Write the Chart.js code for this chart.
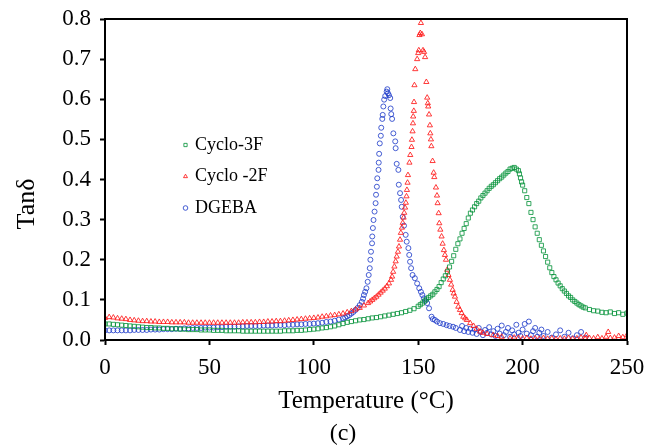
<!DOCTYPE html>
<html>
<head>
<meta charset="utf-8">
<script src="https://cdn.jsdelivr.net/npm/chart.js@4.4.1/dist/chart.umd.min.js"></script>
<style>
  body { margin: 0; background: #fff; }
  #wrap { width: 647px; height: 448px; }
</style>
</head>
<body>
<div id="wrap"><canvas id="myChart" width="647" height="448"></canvas></div>
<script>
// tick labels
const xTicks = [0, 50, 100, 150, 200, 250];
const yTicks = [0.0, 0.1, 0.2, 0.3, 0.4, 0.5, 0.6, 0.7, 0.8];

// Cyclo-3F (green squares)
const cyclo3fTemp = [0, 2, 4, 6, 8, 10, 12, 14, 16, 18, 20, 22, 24, 26, 28, 30, 32, 34, 36, 38, 40, 42, 44, 46, 48, 50, 52, 54, 56, 58, 60, 62, 64, 66, 68, 70, 72, 74, 76, 78, 80, 82, 84, 86, 88, 90, 92, 94, 96, 98, 100, 102, 104, 106, 108, 110, 112, 114, 116, 118, 120, 122, 124, 126, 128, 130, 132, 134, 136, 138, 140, 142, 144, 146, 148, 150, 151, 152, 153, 154, 155, 156, 157, 158, 159, 160, 161, 162, 163, 164, 165, 166, 167, 168, 169, 170, 171, 172, 173, 174, 175, 176, 177, 178, 179, 180, 181, 182, 183, 184, 185, 186, 187, 188, 189, 190, 191, 192, 193, 194, 195, 196, 197, 198, 198.5, 199, 199.5, 200, 201, 202, 203, 204, 205, 206, 207, 208, 209, 210, 211, 212, 213, 214, 215, 216, 217, 218, 219, 220, 221, 222, 223, 224, 225, 226, 227, 228, 229, 230, 232, 234, 236, 238, 240, 242, 244, 246, 248, 250];
const cyclo3fTan = [0.040, 0.040, 0.039, 0.038, 0.037, 0.036, 0.035, 0.034, 0.033, 0.032, 0.031, 0.031, 0.030, 0.030, 0.029, 0.029, 0.028, 0.028, 0.027, 0.027, 0.026, 0.026, 0.026, 0.025, 0.025, 0.025, 0.024, 0.024, 0.024, 0.023, 0.023, 0.023, 0.023, 0.022, 0.022, 0.022, 0.022, 0.022, 0.022, 0.022, 0.022, 0.022, 0.022, 0.023, 0.023, 0.023, 0.024, 0.024, 0.025, 0.026, 0.027, 0.028, 0.030, 0.031, 0.033, 0.035, 0.038, 0.041, 0.044, 0.046, 0.048, 0.050, 0.051, 0.053, 0.055, 0.056, 0.058, 0.060, 0.062, 0.064, 0.066, 0.068, 0.071, 0.074, 0.078, 0.084, 0.088, 0.092, 0.097, 0.102, 0.106, 0.110, 0.114, 0.120, 0.126, 0.133, 0.143, 0.152, 0.160, 0.170, 0.182, 0.196, 0.210, 0.226, 0.240, 0.252, 0.266, 0.278, 0.290, 0.304, 0.316, 0.324, 0.332, 0.340, 0.346, 0.354, 0.360, 0.366, 0.372, 0.378, 0.383, 0.387, 0.392, 0.397, 0.402, 0.406, 0.411, 0.416, 0.420, 0.426, 0.428, 0.430, 0.426, 0.422, 0.414, 0.404, 0.394, 0.386, 0.372, 0.355, 0.340, 0.318, 0.300, 0.282, 0.266, 0.250, 0.236, 0.222, 0.208, 0.194, 0.180, 0.168, 0.158, 0.150, 0.142, 0.135, 0.128, 0.122, 0.116, 0.110, 0.106, 0.100, 0.096, 0.092, 0.088, 0.085, 0.082, 0.080, 0.076, 0.073, 0.072, 0.069, 0.068, 0.070, 0.066, 0.068, 0.064, 0.067];

// Cyclo -2F (red triangles)
const cyclo2fTemp = [0, 2, 4, 6, 8, 10, 12, 14, 16, 18, 20, 22, 24, 26, 28, 30, 32, 34, 36, 38, 40, 42, 44, 46, 48, 50, 52, 54, 56, 58, 60, 62, 64, 66, 68, 70, 72, 74, 76, 78, 80, 82, 84, 86, 88, 90, 92, 94, 96, 98, 100, 102, 104, 106, 108, 110, 112, 114, 116, 118, 120, 122, 124, 126, 127, 128, 129, 130, 131, 132, 133, 134, 135, 136, 137, 137.5, 138, 138.6, 139.2, 139.7, 140.3, 140.8, 141.3, 141.7, 142.2, 142.6, 143, 143.3, 143.7, 144.1, 144.4, 144.6, 144.9, 145.1, 145.8, 146.2, 146.8, 147, 147.3, 147.5, 147.6, 147.9, 148, 148.2, 148.6, 149.5, 150, 150.3, 150.6, 151, 151.3, 151.8, 152.3, 152.8, 153.3, 153.9, 154.3, 154.6, 154.8, 155.2, 155.6, 155.8, 156.1, 156.3, 156.9, 157.4, 157.7, 158.5, 159, 159.3, 159.8, 160.1, 160.6, 161.2, 161.7, 162.3, 162.8, 163.3, 163.9, 164.5, 165.2, 165.8, 166.5, 167, 167.6, 168.4, 169.2, 170, 170.8, 171.6, 172.5, 173.3, 174.9, 176.5, 178, 179.6, 181, 183, 185.9, 188, 190, 194, 196, 198, 200, 202, 204, 206, 208, 210, 212, 214, 216, 218, 220, 222, 224, 226, 228, 230, 230.5, 232, 234, 236, 238, 240, 241, 242, 244, 246, 248, 250];
const cyclo2fTan = [0.055, 0.057, 0.056, 0.054, 0.053, 0.052, 0.050, 0.049, 0.048, 0.047, 0.047, 0.046, 0.046, 0.045, 0.045, 0.045, 0.044, 0.044, 0.044, 0.044, 0.043, 0.043, 0.043, 0.043, 0.043, 0.043, 0.043, 0.043, 0.043, 0.043, 0.043, 0.043, 0.043, 0.044, 0.044, 0.044, 0.044, 0.045, 0.045, 0.046, 0.046, 0.047, 0.047, 0.048, 0.049, 0.050, 0.051, 0.052, 0.053, 0.054, 0.055, 0.056, 0.058, 0.059, 0.061, 0.062, 0.064, 0.066, 0.069, 0.072, 0.076, 0.080, 0.086, 0.092, 0.096, 0.100, 0.104, 0.108, 0.113, 0.118, 0.123, 0.128, 0.134, 0.141, 0.150, 0.158, 0.170, 0.183, 0.196, 0.208, 0.220, 0.233, 0.250, 0.267, 0.280, 0.292, 0.305, 0.317, 0.330, 0.342, 0.358, 0.374, 0.392, 0.411, 0.442, 0.461, 0.481, 0.499, 0.520, 0.540, 0.557, 0.571, 0.593, 0.635, 0.675, 0.700, 0.715, 0.722, 0.760, 0.765, 0.790, 0.762, 0.722, 0.718, 0.705, 0.643, 0.604, 0.590, 0.582, 0.562, 0.535, 0.515, 0.500, 0.483, 0.446, 0.417, 0.406, 0.380, 0.360, 0.341, 0.316, 0.291, 0.275, 0.258, 0.240, 0.224, 0.212, 0.200, 0.175, 0.162, 0.150, 0.138, 0.125, 0.116, 0.108, 0.095, 0.083, 0.075, 0.067, 0.058, 0.054, 0.050, 0.042, 0.035, 0.028, 0.021, 0.018, 0.015, 0.012, 0.010, 0.008, 0.004, 0.006, 0.005, 0.004, 0.005, 0.003, 0.004, 0.003, 0.005, 0.003, 0.004, 0.002, 0.004, 0.003, 0.005, 0.003, 0.004, 0.006, 0.003, 0.012, 0.005, 0.004, 0.007, 0.004, 0.008, 0.020, 0.005, 0.006, 0.010, 0.007, 0.012];

// DGEBA (blue circles)
const dgebaTemp = [0, 2, 4, 6, 8, 10, 12, 14, 16, 18, 20, 22, 24, 26, 28, 30, 32, 34, 36, 38, 40, 42, 44, 46, 48, 50, 52, 54, 56, 58, 60, 62, 64, 66, 68, 70, 72, 74, 76, 78, 80, 82, 84, 86, 88, 90, 92, 94, 96, 98, 100, 102, 104, 106, 108, 110, 112, 114, 115, 116, 117, 118, 119, 120, 121, 122, 123, 123.6, 124, 124.6, 125.2, 125.8, 126.3, 126.8, 127.1, 127.4, 127.9, 128, 128.3, 128.6, 129.1, 129.6, 129.8, 130.2, 130.4, 131, 131.1, 131.3, 131.6, 132.1, 132.3, 132.8, 133, 133.3, 133.7, 134.2, 134.9, 135.2, 135.5, 136, 136.6, 136.8, 137.1, 137.5, 138.1, 139, 139.2, 139.7, 140.5, 140.7, 141.3, 141.8, 142.1, 142.6, 143.2, 144, 144.5, 145.3, 145.7, 146.1, 146.6, 147.3, 148.4, 149.5, 150.5, 151.3, 152, 152.7, 153.5, 154.3, 155.2, 156.4, 157, 158, 159, 160.4, 162, 163.6, 165, 166.7, 168, 170, 171, 172, 173, 174, 175, 176, 177, 178, 179, 180, 181, 182, 183, 184, 185, 186, 187, 188, 189, 190, 191, 192, 193, 194, 195, 196, 197, 198, 199, 200, 201, 202, 203, 204, 205, 206, 207, 208, 209, 210, 212, 214, 216, 218, 220, 222, 224, 226, 228, 230];
const dgebaTan = [0.024, 0.024, 0.024, 0.024, 0.024, 0.024, 0.024, 0.025, 0.025, 0.025, 0.025, 0.026, 0.026, 0.026, 0.027, 0.027, 0.027, 0.028, 0.028, 0.029, 0.029, 0.030, 0.030, 0.030, 0.031, 0.031, 0.031, 0.032, 0.032, 0.033, 0.033, 0.033, 0.034, 0.034, 0.035, 0.035, 0.035, 0.035, 0.036, 0.036, 0.036, 0.037, 0.037, 0.037, 0.038, 0.038, 0.039, 0.039, 0.040, 0.040, 0.041, 0.042, 0.043, 0.045, 0.046, 0.048, 0.051, 0.054, 0.056, 0.059, 0.062, 0.066, 0.070, 0.075, 0.080, 0.087, 0.095, 0.103, 0.112, 0.120, 0.129, 0.145, 0.162, 0.179, 0.200, 0.220, 0.241, 0.258, 0.279, 0.299, 0.320, 0.341, 0.362, 0.382, 0.403, 0.424, 0.442, 0.464, 0.490, 0.509, 0.529, 0.551, 0.561, 0.582, 0.599, 0.608, 0.619, 0.625, 0.615, 0.610, 0.603, 0.577, 0.563, 0.551, 0.515, 0.495, 0.478, 0.439, 0.424, 0.387, 0.366, 0.349, 0.332, 0.307, 0.285, 0.262, 0.245, 0.229, 0.212, 0.195, 0.179, 0.162, 0.154, 0.141, 0.129, 0.120, 0.112, 0.104, 0.098, 0.092, 0.079, 0.058, 0.052, 0.050, 0.046, 0.042, 0.040, 0.037, 0.035, 0.033, 0.030, 0.025, 0.035, 0.022, 0.030, 0.020, 0.028, 0.018, 0.026, 0.015, 0.030, 0.020, 0.012, 0.025, 0.018, 0.032, 0.014, 0.022, 0.010, 0.028, 0.016, 0.036, 0.012, 0.020, 0.030, 0.008, 0.024, 0.014, 0.038, 0.018, 0.010, 0.026, 0.040, 0.016, 0.046, 0.012, 0.022, 0.030, 0.008, 0.018, 0.026, 0.010, 0.020, 0.006, 0.014, 0.024, 0.008, 0.018, 0.004, 0.012, 0.020, 0.006];

const toPoints = (xs, ys) => xs.map((x, i) => ({ x: x, y: ys[i] }));

const serif = "'Liberation Serif', 'Times New Roman', serif";

// black frame round the plot area
const framePlugin = {
  id: "frame",
  afterDraw(chart) {
    const { ctx, chartArea } = chart;
    ctx.save();
    ctx.strokeStyle = "#000";
    ctx.lineWidth = 2;
    ctx.strokeRect(chartArea.left, chartArea.top, chartArea.width, chartArea.height);
    ctx.restore();
  },
};

// legend inside the plot, y title and the "(c)" caption
const extraText = {
  id: "extraText",
  afterDraw(chart) {
    const ctx = chart.ctx;
    ctx.save();
    ctx.textBaseline = "middle";
    chart.data.datasets.forEach((ds, i) => {
      const y = 145 + i * 31.5;
      ctx.strokeStyle = ds.borderColor;
      ctx.fillStyle = "rgba(0,0,0,0)";
      ctx.lineWidth = 1;
      Chart.helpers.drawPoint(ctx, { pointStyle: ds.pointStyle, radius: 2.3, borderWidth: 1 }, 185.5, y);
      ctx.font = "18px " + serif;
      ctx.fillStyle = "#000";
      ctx.textAlign = "left";
      ctx.fillText(ds.label, 195, y);
    });
    ctx.fillStyle = "#000";
    ctx.textAlign = "center";
    ctx.font = "24px " + serif;
    ctx.fillText("(c)", 343, 434);
    // Tanδ
    ctx.translate(27, 204);
    ctx.rotate(-Math.PI / 2);
    ctx.font = "26px " + serif;
    ctx.fillText("Tanδ", 0, 0);
    ctx.restore();
  },
};

const ctx = document.getElementById("myChart").getContext("2d");
const myChart = new Chart(ctx, {
  type: "scatter",
  data: {
    datasets: [
      {
        label: "Cyclo-3F",
        data: toPoints(cyclo3fTemp, cyclo3fTan),
        pointStyle: "rect",
        borderColor: "rgba(0, 145, 55, 0.8)",
        backgroundColor: "rgba(0,0,0,0)",
        pointRadius: 2.9,
        pointBorderWidth: 1,
      },
      {
        label: "Cyclo -2F",
        data: toPoints(cyclo2fTemp, cyclo2fTan),
        pointStyle: "triangle",
        borderColor: "rgba(255, 25, 25, 0.85)",
        backgroundColor: "rgba(0,0,0,0)",
        pointRadius: 3,
        pointBorderWidth: 1,
      },
      {
        label: "DGEBA",
        data: toPoints(dgebaTemp, dgebaTan),
        pointStyle: "circle",
        borderColor: "rgba(25, 55, 200, 0.8)",
        backgroundColor: "rgba(0,0,0,0)",
        pointRadius: 2.5,
        pointBorderWidth: 1,
      },
    ],
  },
  options: {
    responsive: false,
    animation: false,
    layout: { padding: { top: 19, right: 20, left: 0, bottom: 28 } },
    plugins: {
      legend: { display: false },
      tooltip: { enabled: false },
    },
    scales: {
      x: {
        type: "linear",
        min: 0,
        max: 250,
        afterFit: (s) => {
          s.height = 80;
          s.paddingLeft = 0;
          s.paddingRight = 0;
        },
        afterBuildTicks: (s) => { s.ticks = xTicks.map((v) => ({ value: v })); },
        grid: { drawOnChartArea: false, drawTicks: true, tickLength: 5, tickWidth: 2, tickColor: "#000" },
        border: { display: true, color: "#000", width: 2 },
        ticks: { color: "#000", font: { family: serif, size: 23 }, padding: 9, maxRotation: 0 },
        title: { display: true, text: "Temperature (°C)", color: "#000", font: { family: serif, size: 25 }, padding: { top: 4, bottom: 4 } },
      },
      y: {
        min: 0,
        max: 0.8,
        afterFit: (s) => {
          s.width = 105;
          s.paddingTop = 0;
          s.paddingBottom = 0;
        },
        afterBuildTicks: (s) => { s.ticks = yTicks.map((v) => ({ value: v })); },
        grid: { drawOnChartArea: false, drawTicks: true, tickLength: 5, tickWidth: 2, tickColor: "#000" },
        border: { display: true, color: "#000", width: 2 },
        ticks: { color: "#000", font: { family: serif, size: 23 }, padding: 9, callback: (v) => v.toFixed(1) },
      },
    },
  },
  plugins: [framePlugin, extraText],
});
</script>
</body>
</html>
